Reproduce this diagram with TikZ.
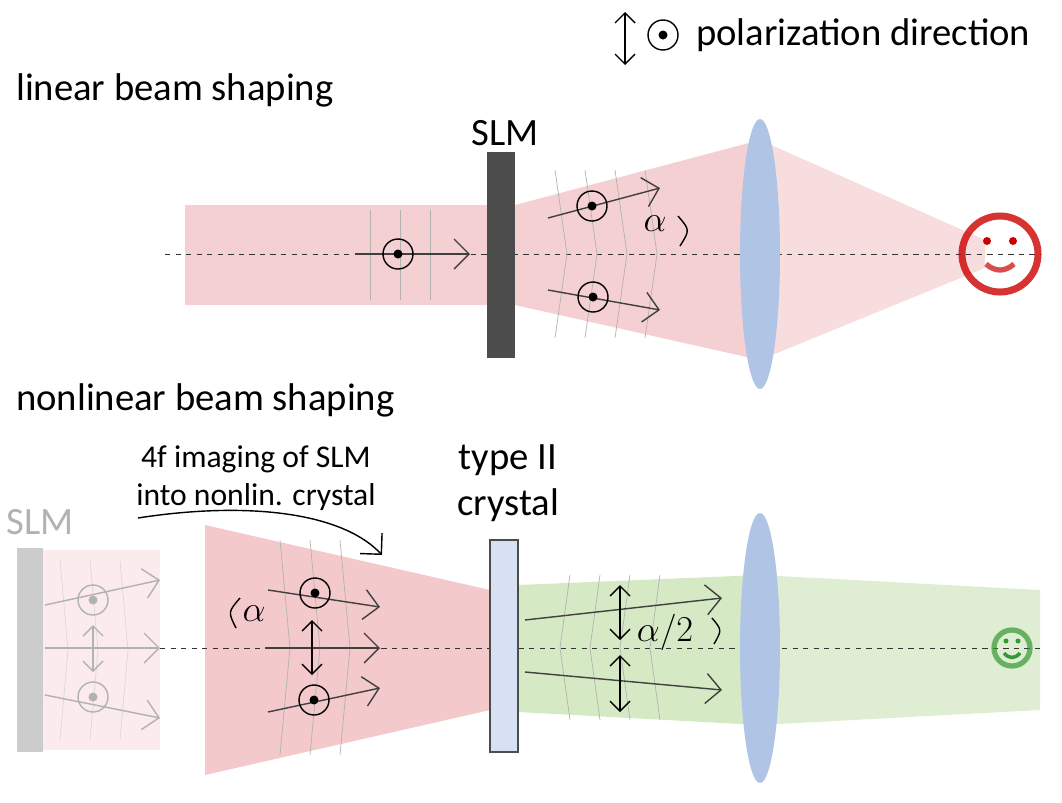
\documentclass[tikz,border=0pt]{standalone}
\usepackage{fontspec}
\setmainfont{Carlito}
\usetikzlibrary{arrows.meta,shapes.geometric}
\definecolor{beamred}{RGB}{225,120,125}
\definecolor{beamgreen}{RGB}{150,200,110}
\definecolor{lensblue}{RGB}{176,196,230}
\tikzset{
  ray/.style={-{Straight Barb[length=3mm]}, thick, black!75},
  fray/.style={-{Straight Barb[length=3mm]}, thick, black!30},
  pol/.style={{Straight Barb[length=2mm]}-{Straight Barb[length=2mm]}, thick},
  wave/.style={black!30, thin},
  lens/.style={ellipse, fill=lensblue, minimum width=0.8cm, minimum height=5.4cm, inner sep=0pt},
  lbl/.style={font=\fontsize{22}{26}\selectfont},
  axis/.style={dashed, thin, black!80}
}
\begin{document}
\begin{tikzpicture}[x=0.02cm,y=-0.02cm]
\useasboundingbox (0,0) rectangle (1062,802);
% legend
\draw[pol] (625,12) -- (625,65);
\draw[thick] (663,35) circle (15); \fill (663,35) circle (4.5);
\node[lbl, anchor=west] (legend) at (690,35) {polarization direction};
% top: linear
\node[lbl, anchor=west] (lintitle) at (10,90) {linear beam shaping};
\fill[beamred, opacity=0.35] (185,205) rectangle (488,305);
\fill[beamred, opacity=0.35] (515,205) -- (760,140) -- (760,360) -- (515,305) -- cycle;
\fill[beamred, opacity=0.25] (760,140) -- (985,240) -- (985,268) -- (760,360) -- cycle;
\draw[axis] (165,254) -- (1040,254);
\foreach \x in {370,400,430} \draw[wave] (\x,210) -- (\x,300);
\foreach \x in {555,585,615,645} \draw[wave] (\x,170) -- (\x+12,254) -- (\x,338);
\node[draw=none, fill=black!70, minimum width=0.56cm, minimum height=4.12cm, inner sep=0pt] (slm) at (501,255) {};
\node[lbl] (slmlabel) at (505,133) {SLM};
\coordinate (a1) at (355,254); \coordinate (a2) at (470,254);
\draw[ray] (a1) -- (a2);
\draw[thick] (398,254) circle (15); \fill (398,254) circle (4.5);
\draw[ray] (548,218) -- (660,188);
\draw[thick] (592,206) circle (15); \fill (592,206) circle (4.5);
\draw[ray] (548,290) -- (660,310);
\draw[thick] (593,297) circle (15); \fill (593,297) circle (4.5);
\node[lbl] (alpha1) at (655,224) {$\alpha$};
\draw[thick] (678,216) .. controls (690,230) .. (680,246);
\node[lens] (lens1) at (760,254) {};
\draw[red!80!black, line width=4pt, opacity=0.8] (1000,254) circle (38);
\fill[red!80!black] (987,241) circle (4); \fill[red!80!black] (1013,241) circle (4);
\draw[red!80!black, line width=3pt, opacity=0.7] (986,264) .. controls (995,272) and (1005,272) .. (1014,264);
% bottom: nonlinear
\node[lbl, anchor=west] (nltitle) at (10,400) {nonlinear beam shaping};
\node[fill=black!20, minimum width=0.52cm, minimum height=4.08cm, inner sep=0pt] (slmb) at (30,650) {};
\node[lbl, text=black!30] (slmblabel) at (40,522) {SLM};
\fill[beamred, opacity=0.15] (43,550) rectangle (160,750);
\fill[beamred, opacity=0.4] (205,525) -- (490,590) -- (490,710) -- (205,775) -- cycle;
\fill[beamgreen, opacity=0.4] (518,585) -- (760,575) -- (760,725) -- (518,712) -- cycle;
\fill[beamgreen, opacity=0.3] (760,575) -- (1040,590) -- (1040,710) -- (760,725) -- cycle;
\draw[axis] (160,648) -- (1040,648);
\foreach \x in {60,90,120} \draw[wave, black!15] (\x,560) -- (\x+8,650) -- (\x,740);
\foreach \x in {280,310,340} \draw[wave] (\x,540) -- (\x+10,648) -- (\x,755);
\foreach \x in {570,600,630,660} \draw[wave] (\x,575) -- (\x-10,648) -- (\x,720);
% faded arrows
\draw[fray] (45,605) -- (160,580);
\draw[fray] (45,648) -- (160,648);
\draw[fray] (45,695) -- (160,718);
\draw[thick, black!30] (93,600) circle (15); \fill[black!30] (93,600) circle (4.5);
\draw[thick, black!30] (93,697) circle (15); \fill[black!30] (93,697) circle (4.5);
\draw[pol, black!30] (93,625) -- (93,672);
% 4f arrow
\node[font=\fontsize{18}{22}\selectfont, align=center] (fourf) at (256,478) {4f imaging of SLM\\into nonlin. crystal};
\coordinate (fa) at (138,518); \coordinate (fb) at (382,555);
\draw[-{Straight Barb[length=3mm]}, thick] (fa) .. controls (240,502) and (340,510) .. (fb);
% crystal
\node[draw=black!70, thick, fill=lensblue!50, minimum width=0.56cm, minimum height=4.24cm, inner sep=0pt] (crystal) at (504,646) {};
\node[lbl, align=center] (crystallabel) at (508,483) {type II\\crystal};
% arrows into crystal
\draw[ray] (268,590) -- (380,607);
\draw[thick] (315,593) circle (15); \fill (315,593) circle (4.5);
\draw[ray] (265,648) -- (380,648);
\draw[pol] (312,620) -- (312,675);
\draw[ray] (268,712) -- (380,688);
\draw[thick] (314,700) circle (15); \fill (314,700) circle (4.5);
\node[lbl] (alpha2) at (254,614) {$\alpha$};
\draw[thick] (240,598) .. controls (228,612) .. (236,628);
% after crystal
\draw[ray] (525,620) -- (722,598);
\draw[ray] (525,672) -- (722,690);
\draw[pol] (620,585) -- (620,640);
\draw[pol] (620,655) -- (620,712);
\node[lbl] (alpha3) at (665,632) {$\alpha/2$};
\node[lens] (lens2) at (760,648) {};
\draw[thick] (712,618) .. controls (722,630) .. (714,644);
\draw[green!50!black!80, line width=3pt, opacity=0.7] (1012,648) circle (18);
\fill[green!50!black!80] (1006,641) circle (2.5); \fill[green!50!black!80] (1018,641) circle (2.5);
\draw[green!50!black!80, line width=2pt] (1004,653) .. controls (1009,659) and (1015,659) .. (1020,653);
\end{tikzpicture}
\end{document}
